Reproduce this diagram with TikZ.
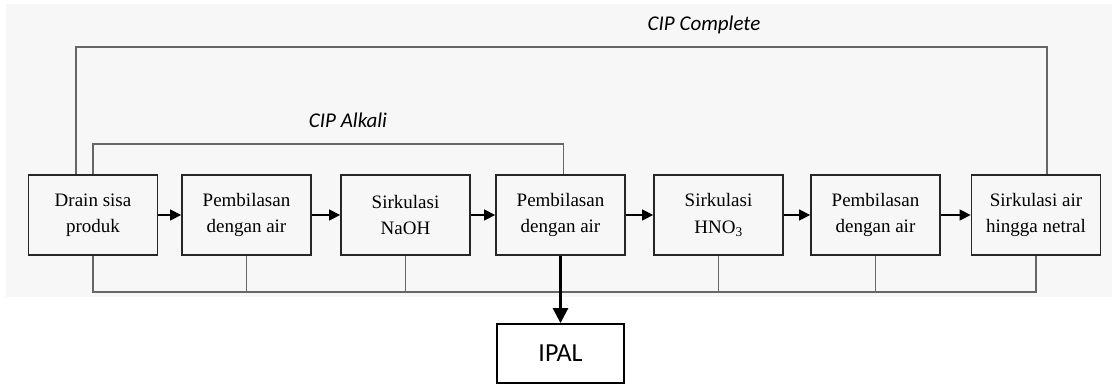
\documentclass[tikz,border=0pt]{standalone}
\usepackage{fontspec}
\setmainfont{Liberation Serif}
\newfontfamily\labelfont{Carlito}
\usetikzlibrary{arrows.meta, positioning}

\begin{document}
\begin{tikzpicture}[x=1pt, y=-1pt,
    tahap/.style={draw=black!85, line width=1.8pt, rectangle, minimum width=129pt, minimum height=80pt, align=center, font=\fontsize{19}{26.5}\selectfont},
    alir/.style={line width=1.4pt, -{Triangle[length=11pt, width=11pt]}},
    balik/.style={draw=black!60, line width=1.2pt},
    judul/.style={font=\labelfont\itshape\fontsize{21}{24}\selectfont}]
    \useasboundingbox (0,0) rectangle (1112,386);
    % latar abu-abu
    \fill[black!3] (6,4) rectangle (1112,297);

    % tahapan CIP
    \node[tahap] (drain) at (93,215) {Drain sisa\\produk};
    \node[tahap] (bilas1) at (246.5,215) {Pembilasan\\dengan air};
    \node[tahap] (naoh) at (405.5,215) {Sirkulasi\\NaOH};
    \node[tahap] (bilas2) at (560.5,215) {Pembilasan\\dengan air};
    \node[tahap] (hno) at (718.5,215) {Sirkulasi\\HNO\textsubscript{3}};
    \node[tahap] (bilas3) at (875.5,215) {Pembilasan\\dengan air};
    \node[tahap] (netral) at (1036,215) {Sirkulasi air\\hingga netral};
    \node[draw=black, line width=1.8pt, minimum width=127pt, minimum height=59pt, font=\labelfont\fontsize{26}{30}\selectfont] (ipal) at (560.5,353.5) {IPAL};

    \draw[alir] (drain) -- (bilas1);
    \draw[alir] (bilas1) -- (naoh);
    \draw[alir] (naoh) -- (bilas2);
    \draw[alir] (bilas2) -- (hno);
    \draw[alir] (hno) -- (bilas3);
    \draw[alir] (bilas3) -- (netral);

    % jalur balik
    \coordinate (atas) at (0,47);
    \coordinate (tengah) at (0,144);
    \coordinate (bawah) at (0,292);
    \coordinate (c1) at ([xshift=-17pt]drain.north);
    \coordinate (c2) at ([xshift=11pt]netral.north);
    \coordinate (a2) at ([xshift=3pt]bilas2.north);
    \draw[balik] (c1) -- (c1 |- atas) -- (c2 |- atas) -- (c2);
    \draw[balik] (drain.north) -- (drain.north |- tengah) -- (a2 |- tengah) -- (a2);
    \draw[balik] (drain.south) -- (drain.south |- bawah) -- (netral.south |- bawah) -- (netral.south);
    \foreach \n in {bilas1, naoh, hno, bilas3}
        \draw[balik] (\n.south) -- (\n.south |- bawah);

    \node[judul] at (704,25) {CIP Complete};
    \node[judul] at (348,120) {CIP Alkali};

    % ke IPAL
    \draw[line width=2.6pt, -{Triangle[length=15pt, width=15pt]}] (bilas2.south) -- (ipal.north);
\end{tikzpicture}
\end{document}
